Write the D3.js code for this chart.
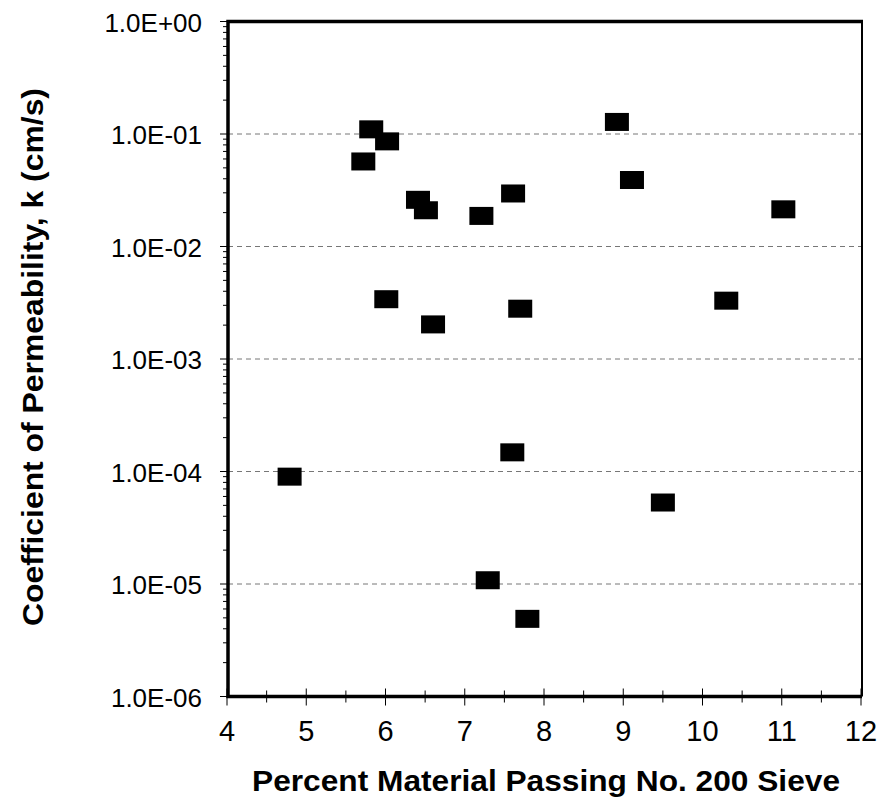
<!DOCTYPE html>
<html lang="en">
<head>
    <meta charset="UTF-8">
    <title>permeability vs fines</title>
    <style>
        body { margin: 0; background: #fff; }
        text { font-family: "Liberation Sans", Arial, Helvetica, sans-serif; fill: #000; }
        .grid line { stroke: #777; stroke-width: 1; stroke-dasharray: 5 4; }
    </style>
</head>
<body>
    <script src="https://d3js.org/d3.v7.min.js"></script>
    <svg id="svg"></svg>
    <script>
        // percent passing No. 200 sieve
        var passing = [5.82, 6.02, 5.72, 6.41, 6.51, 7.21, 7.61, 8.92, 9.11, 11.02,
                       6.01, 6.60, 7.70, 10.30, 4.79, 7.60, 7.29, 7.79, 9.50];
        // coefficient of permeability, cm/s
        var perm = [0.110, 0.086, 0.057, 0.026, 0.021, 0.0187, 0.0296, 0.128, 0.039, 0.0214,
                    0.0034, 0.00203, 0.0028, 0.0033, 9.0e-5, 1.48e-4, 1.08e-5, 4.9e-6, 5.3e-5];
        var xTicks = [4, 5, 6, 7, 8, 9, 10, 11, 12];
        var yTicks = [1e-6, 1e-5, 1e-4, 1e-3, 1e-2, 1e-1, 1];
        var yLabels = ["1.0E-06", "1.0E-05", "1.0E-04", "1.0E-03", "1.0E-02", "1.0E-01", "1.0E+00"];

        var w = 878, h = 802;
        var pLeft = 228, pRight = 862, pTop = 21.5, pBottom = 696.5;

        var svg = d3.select("svg").attr("width", w).attr("height", h);

        var x = d3.scaleLinear().domain([4, 12]).range([227, 861]);
        var y = d3.scaleLog().domain([1e-6, 1]).range([pBottom, pTop]);

        // dashed grid at each decade
        svg.append("g").attr("class", "grid")
            .selectAll("line")
            .data(yTicks.slice(1, -1))
            .enter().append("line")
            .attr("x1", pLeft).attr("x2", pRight)
            .attr("y1", d => y(d)).attr("y2", d => y(d));

        // minor y ticks (2..9 in each decade)
        var minor = [];
        for (let e = -6; e < 0; e++) {
            for (let m = 2; m < 10; m++) minor.push(m * Math.pow(10, e));
        }
        svg.append("g").selectAll("line")
            .data(minor)
            .enter().append("line")
            .attr("x1", pLeft - 5).attr("x2", pLeft)
            .attr("y1", d => y(d)).attr("y2", d => y(d))
            .attr("stroke", "#000").attr("stroke-width", 1);

        // major y ticks
        svg.append("g").selectAll("line")
            .data(yTicks)
            .enter().append("line")
            .attr("x1", pLeft - 8).attr("x2", pLeft)
            .attr("y1", d => y(d)).attr("y2", d => y(d))
            .attr("stroke", "#000").attr("stroke-width", 1);

        // x ticks, major and half steps
        svg.append("g").selectAll("line")
            .data(d3.range(4, 12.01, 0.5))
            .enter().append("line")
            .attr("x1", d => x(d)).attr("x2", d => x(d))
            .attr("y1", d => pBottom - (d % 1 === 0 ? 8 : 6))
            .attr("y2", d => pBottom + (d % 1 === 0 ? 9 : 6))
            .attr("stroke", "#000").attr("stroke-width", 1);

        // frame: thin right side, heavy others
        svg.append("line")
            .attr("x1", pRight).attr("x2", pRight)
            .attr("y1", pTop).attr("y2", pBottom)
            .attr("stroke", "#000").attr("stroke-width", 2);
        svg.append("path")
            .attr("d", `M${pRight},${pBottom}H${pLeft}V${pTop}H${pRight + 1}`)
            .attr("fill", "none").attr("stroke", "#000").attr("stroke-width", 3.5);

        // data squares
        var sw = 24, sh = 18;
        svg.append("g").selectAll("rect")
            .data(passing)
            .enter().append("rect")
            .attr("x", (d) => x(d) - sw / 2)
            .attr("y", (d, i) => y(perm[i]) - sh / 2)
            .attr("width", sw).attr("height", sh)
            .attr("fill", "#000");

        // tick labels
        svg.append("g").selectAll("text")
            .data(yTicks)
            .enter().append("text")
            .attr("x", 202)
            .attr("y", d => y(d) + 10)
            .attr("text-anchor", "end")
            .attr("font-size", 26)
            .text((d, i) => yLabels[i]);

        svg.append("g").selectAll("text")
            .data(xTicks)
            .enter().append("text")
            .attr("x", d => x(d))
            .attr("y", 741)
            .attr("text-anchor", "middle")
            .attr("font-size", 29)
            .text(d => d);

        // axis titles
        svg.append("text")
            .attr("x", 546).attr("y", 791)
            .attr("text-anchor", "middle")
            .attr("font-size", 30).attr("font-weight", "bold")
            .attr("textLength", 588).attr("lengthAdjust", "spacingAndGlyphs")
            .text("Percent Material Passing No. 200 Sieve");

        svg.append("text")
            .attr("transform", "translate(43,357) rotate(-90)")
            .attr("text-anchor", "middle")
            .attr("font-size", 30).attr("font-weight", "bold")
            .attr("textLength", 538).attr("lengthAdjust", "spacingAndGlyphs")
            .text("Coefficient of Permeability, k (cm/s)");
    </script>
</body>
</html>
